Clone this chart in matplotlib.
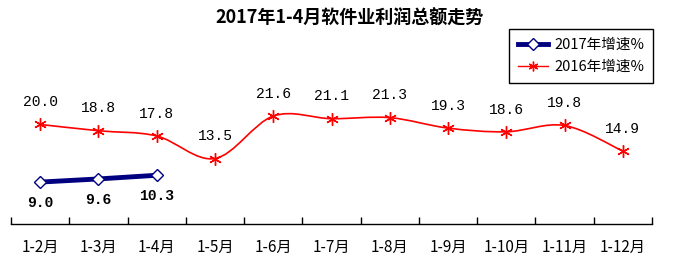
import matplotlib
matplotlib.use("Agg")
import matplotlib.pyplot as plt
from matplotlib.path import Path
from matplotlib.patches import PathPatch
from matplotlib.lines import Line2D

plt.rcParams['font.family'] = ['Noto Sans CJK SC', 'DejaVu Sans']

# data
months = ['1-2月', '1-3月', '1-4月', '1-5月', '1-6月', '1-7月',
          '1-8月', '1-9月', '1-10月', '1-11月', '1-12月']
growth_2017 = [9.0, 9.6, 10.3]
growth_2016 = [20.0, 18.8, 17.8, 13.5, 21.6, 21.1, 21.3, 19.3, 18.6, 19.8, 14.9]
title = '2017年1-4月软件业利润总额走势'

red = '#ff0000'
navy = '#000080'

fig = plt.figure(figsize=(6.73, 2.61), dpi=100)
ax = fig.add_axes([11 / 673, 1 - 224 / 261, 641 / 673, 164 / 261])

x16 = list(range(len(growth_2016)))
x17 = list(range(len(growth_2017)))


def smooth_path(xs, ys, t=1 / 6):
    # Catmull-Rom style bezier through the data points (Excel-like smoothed line)
    verts = [(xs[0], ys[0])]
    codes = [Path.MOVETO]
    n = len(xs)
    for i in range(n - 1):
        x0, y0 = xs[max(i - 1, 0)], ys[max(i - 1, 0)]
        x1, y1 = xs[i], ys[i]
        x2, y2 = xs[i + 1], ys[i + 1]
        x3, y3 = xs[min(i + 2, n - 1)], ys[min(i + 2, n - 1)]
        c1 = (x1 + (x2 - x0) * t, y1 + (y2 - y0) * t)
        c2 = (x2 - (x3 - x1) * t, y2 - (y3 - y1) * t)
        verts += [c1, c2, (x2, y2)]
        codes += [Path.CURVE4] * 3
    return Path(verts, codes)


ax.add_patch(PathPatch(smooth_path(x16, growth_2016), fill=False,
                       edgecolor=red, lw=1.2, zorder=2))
ax.plot(x16, growth_2016, ls='none', marker=(6, 2, 0), ms=9, mew=1.0,
        color=red, zorder=3)
ax.plot(x17, growth_2017, color=navy, lw=3.5, marker='D', ms=6,
        mfc='white', mec=navy, mew=1.0, zorder=4)

for xi, v in zip(x16, growth_2016):
    ax.annotate(f'{v:.1f}', (xi, v), xytext=(0, 11), textcoords='offset points',
                ha='center', va='bottom', fontsize=10.5,
                family=['Liberation Mono', 'DejaVu Sans'])
for xi, v in zip(x17, growth_2017):
    ax.annotate(f'{v:.1f}', (xi, v), xytext=(0, -10), textcoords='offset points',
                ha='center', va='top', fontsize=10.5, fontweight='bold',
                family=['Liberation Mono', 'DejaVu Sans'])

ax.set_xlim(-0.5, len(months) - 0.5)
ax.set_ylim(1.0, 32.3)
ax.set_xticks([i - 0.5 for i in range(len(months) + 1)])
ax.set_xticklabels([])
ax.set_xticks(x16, minor=True)
ax.set_xticklabels(months, minor=True, fontsize=11)
ax.tick_params(axis='x', which='major', direction='in', length=5, width=1)
ax.tick_params(axis='x', which='minor', length=0, pad=11)
ax.set_yticks([])
for s in ['top', 'right', 'left']:
    ax.spines[s].set_visible(False)
ax.spines['bottom'].set_linewidth(1)

fig.text(350 / 673, 1 - 18 / 261, title, ha='center', va='center',
         fontsize=13, fontweight='bold')

handles = [
    Line2D([], [], color=navy, lw=3.5, marker='D', ms=6, mfc='white', mec=navy),
    Line2D([], [], color=red, lw=1.0, marker=(6, 2, 0), ms=7),
]
leg = fig.legend(handles, ['2017年增速%', '2016年增速%'],
                 loc='upper right', bbox_to_anchor=(653 / 673, 1 - 29 / 261),
                 borderaxespad=0,
                 fancybox=False, edgecolor='black', framealpha=1,
                 fontsize=10.5, handlelength=2.1, borderpad=0.6,
                 labelspacing=0.55, handletextpad=0.4)
leg.get_frame().set_linewidth(1)

fig.savefig('out.png', dpi=100)
